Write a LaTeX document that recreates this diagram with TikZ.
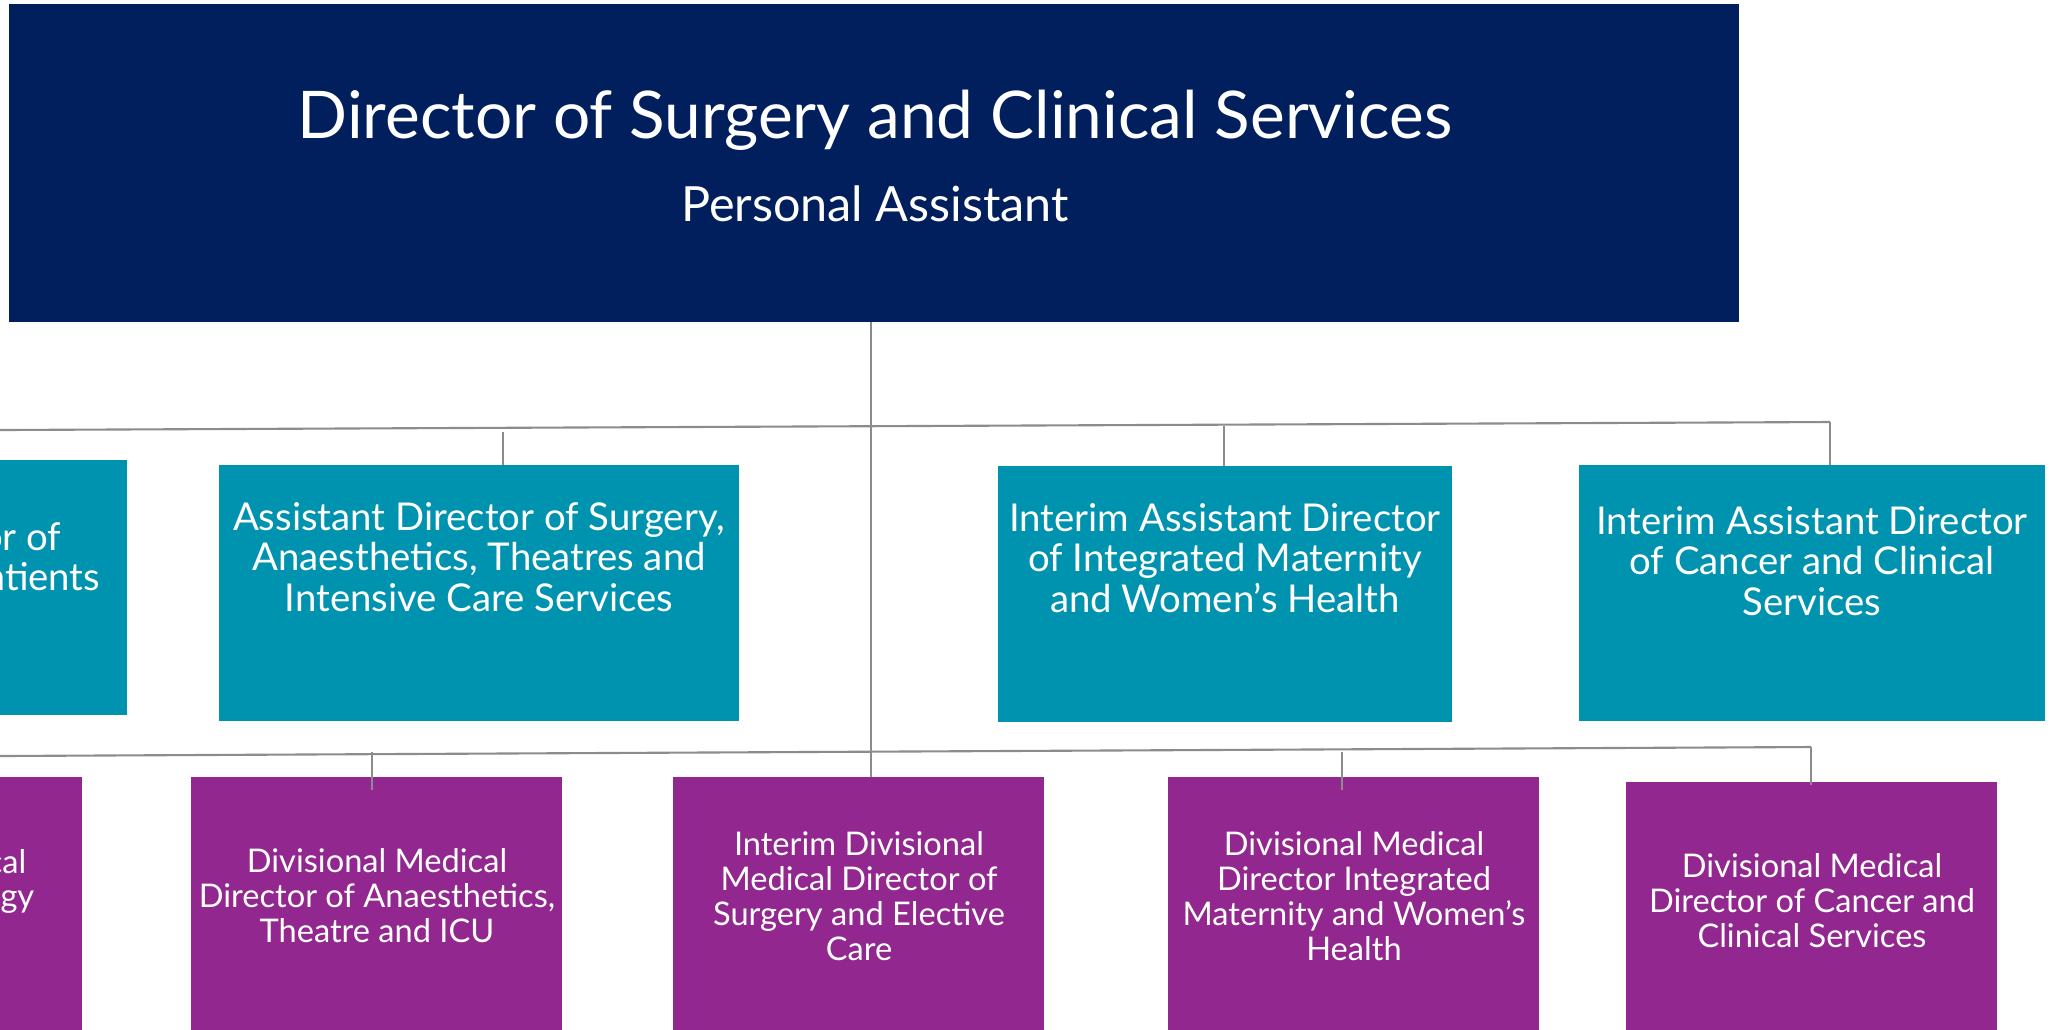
\documentclass[tikz,border=0pt]{standalone}
\usepackage{fontspec}
\setmainfont{Lato}
\definecolor{navy}{RGB}{0,31,92}
\definecolor{tealbox}{RGB}{0,147,176}
\definecolor{plum}{RGB}{146,39,143}
\definecolor{linegray}{RGB}{140,140,140}
\begin{document}
\begin{tikzpicture}[x=0.01cm, y=-0.01cm,
  box/.style={anchor=north west, inner sep=0, outer sep=0},
  line/.style={draw=linegray, line width=0.6pt},
  lbl/.style={text=white, align=center, anchor=base, inner sep=0},
  tealtext/.style={lbl, font=\fontsize{10.9}{11.5}\selectfont},
  plumtext/.style={lbl, font=\fontsize{9.27}{9.9}\selectfont}]
\useasboundingbox[fill=white] (0,0) rectangle (2057,1029);
\clip (0,0) rectangle (2057,1029);

\node[box, fill=navy, minimum width=17.29cm, minimum height=3.18cm] (dir) at (9,4) {};
\node[lbl, font=\fontsize{18.7}{22}\selectfont] (title) at (875,138) {Director of Surgery and Clinical Services};
\node[lbl, font=\fontsize{13.8}{16}\selectfont] (pa) at (875,221) {Personal Assistant};

\node[box, fill=tealbox, minimum width=5.22cm, minimum height=2.55cm] (t0) at (-395,460) {};
\node[box, fill=tealbox, minimum width=5.20cm, minimum height=2.56cm] (t1) at (219,465) {};
\node[box, fill=tealbox, minimum width=4.54cm, minimum height=2.56cm] (t2) at (998,466) {};
\node[box, fill=tealbox, minimum width=4.66cm, minimum height=2.56cm] (t3) at (1579,465) {};

\node[box, fill=plum, minimum width=3.71cm, minimum height=3cm] (p0) at (-289,777) {};
\node[box, fill=plum, minimum width=3.71cm, minimum height=3cm] (p1) at (191,777) {};
\node[box, fill=plum, minimum width=3.71cm, minimum height=3cm] (p2) at (673,777) {};
\node[box, fill=plum, minimum width=3.71cm, minimum height=3cm] (p3) at (1168,777) {};
\node[box, fill=plum, minimum width=3.71cm, minimum height=3cm] (p4) at (1626,782) {};

\coordinate (l1a) at (0,430);
\coordinate (l1b) at (1830,422);
\coordinate (l2a) at (0,756);
\coordinate (l2b) at (1811,747);
\coordinate (j0) at (871,322);
\coordinate (j1) at (503,432);
\coordinate (j2) at (1224,426);
\coordinate (j4) at (372,752);
\coordinate (j5) at (1342,752);

\draw[line] (l1a) -- (l1b);
\draw[line] (l2a) -- (l2b);
\draw[line] (j0) -- (j0 |- p2.north);
\draw[line] (j1) -- (j1 |- t1.north);
\draw[line] (j2) -- (j2 |- t2.north);
\draw[line] (l1b) -- (l1b |- t3.north);
\draw[line] (j4) -- ++(0,38);
\draw[line] (j5) -- ++(0,38);
\draw[line] (l2b) -- ++(0,38);

\node[tealtext, anchor=base east] (t0a) at (62,550) {or of};
\node[tealtext, anchor=base east] (t0b) at (101,590) {atients};
\node[tealtext] (t1txt) at (479,611) {Assistant Director of Surgery,\\Anaesthetics, Theatres and\\Intensive Care Services};
\node[tealtext] (t2txt) at (1225,612) {Interim Assistant Director\\of Integrated Maternity\\and Women’s Health};
\node[tealtext] (t3txt) at (1812,615) {Interim Assistant Director\\of Cancer and Clinical\\Services};

\node[plumtext, anchor=base east] (p0a) at (27,873) {cal};
\node[plumtext, anchor=base east] (p0b) at (35,907) {gy};
\node[plumtext] (p1txt) at (377,942) {Divisional Medical\\Director of Anaesthetics,\\Theatre and ICU};
\node[plumtext] (p2txt) at (859,960) {Interim Divisional\\Medical Director of\\Surgery and Elective\\Care};
\node[plumtext] (p3txt) at (1354,960) {Divisional Medical\\Director Integrated\\Maternity and Women’s\\Health};
\node[plumtext] (p4txt) at (1812,947) {Divisional Medical\\Director of Cancer and\\Clinical Services};
\end{tikzpicture}
\end{document}
